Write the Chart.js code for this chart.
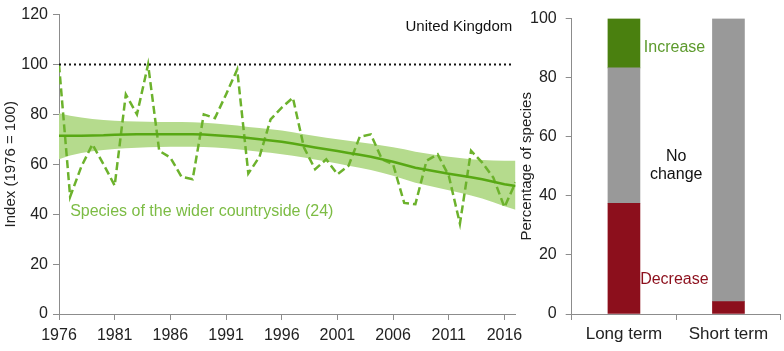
<!DOCTYPE html>
<html>
<head>
<meta charset="utf-8">
<script src="https://cdn.jsdelivr.net/npm/chart.js@4.4.1/dist/chart.umd.min.js"></script>
<style>
  body { margin: 0; background: #fff; }
  #wrap { position: relative; width: 784px; height: 351px; overflow: hidden; }
  canvas { position: absolute; top: 0; }
  #trendChart { left: 0; }
  #barChart { left: 518px; }
</style>
</head>
<body>
<div id="wrap">
  <canvas id="trendChart" width="540" height="351"></canvas>
  <canvas id="barChart" width="266" height="351"></canvas>
</div>
<script>
// 연도별 지수 (1976 = 100)
var years = [];
for (var yr = 1976; yr <= 2017; yr++) years.push(yr);

var indexValues = [100, 47, 59, 68, 60, 51.5, 88, 80, 100, 65.4, 62.7, 55, 54, 80,
  78.5, 88, 98, 56.3, 63, 78, 82.7, 86.7, 66.7, 58, 62, 56, 59.4, 71, 72, 62,
  60, 44.5, 44, 61.4, 64, 55.4, 36.2, 65.4, 60.7, 54.7, 42.8, 52.8];

var smoothed = [71.4, 71.4, 71.4, 71.5, 71.6, 71.8, 71.9, 72, 72, 72, 72, 72, 72, 71.9,
  71.6, 71.3, 71, 70.5, 70, 69.5, 69, 68.3, 67.5, 66.7, 66, 65.3, 64.5, 63.8, 63, 62,
  61, 59.8, 58.6, 57.8, 57, 56.2, 55.5, 54.8, 54, 53, 52, 51.3];

var upperCI = [80.5, 79.5, 78.8, 78.2, 77.8, 77.5, 77.3, 77.2, 77.1, 77, 77, 77, 76.9, 76.7,
  76.4, 76, 75.6, 75, 74.5, 74, 73.5, 72.8, 72, 71.3, 70.6, 70, 69.4, 68.8, 68.2, 67.5,
  66.8, 66, 65, 64.3, 63.6, 63, 62.5, 62, 61.7, 61.5, 61.4, 61.4];

var lowerCI = [62, 63.5, 64.5, 65.2, 65.7, 66.1, 66.4, 66.6, 66.8, 66.9, 67, 67, 67, 66.9,
  66.7, 66.4, 66, 65.5, 65, 64.6, 64, 63.4, 62.7, 61.9, 61.1, 60.3, 59.4, 58.6, 57.7, 56.6,
  55.4, 54, 52.6, 51.6, 50.6, 49.6, 48.6, 47.5, 46.3, 44.8, 43.2, 41.8];

var tickYears = [1976, 1981, 1986, 1991, 1996, 2001, 2006, 2011, 2016];

// 변화 비율 (24종)
var terms = ['Long term', 'Short term'];
var decrease = [37.5, 4.2];
var noChange = [45.8, 95.8];
var increase = [16.7, 0];

var FONT = "'Liberation Sans', Arial, sans-serif";

function xy(vals) {
  return vals.map(function (v, i) { return { x: years[i], y: v }; });
}
// 0인 막대는 그리지 않음
function skipZero(vals) {
  return vals.map(function (v) { return v === 0 ? null : v; });
}

var notes = {
  id: 'notes',
  afterDatasetsDraw: function (chart, args, opts) {
    var ctx = chart.ctx;
    var sx = chart.scales.x, sy = chart.scales.y;
    opts.items.forEach(function (t) {
      ctx.save();
      ctx.font = t.font;
      ctx.fillStyle = t.color;
      ctx.textAlign = t.align;
      ctx.textBaseline = 'middle';
      ctx.fillText(t.text, sx.getPixelForValue(t.x), sy.getPixelForValue(t.y));
      ctx.restore();
    });
  }
};

var axisGrid = { drawOnChartArea: false, drawTicks: true, tickLength: 6, color: '#8c8c8c' };
var axisBorder = { color: '#8c8c8c', width: 1 };
var tickFont = { family: FONT, size: 16 };

new Chart(document.getElementById('trendChart'), {
  type: 'line',
  data: {
    datasets: [
      { data: xy(upperCI), borderWidth: 0, pointRadius: 0, fill: '+1', backgroundColor: '#b5db8d', borderColor: 'rgba(0,0,0,0)' },
      { data: xy(lowerCI), borderWidth: 0, pointRadius: 0, fill: false, borderColor: 'rgba(0,0,0,0)' },
      { data: [{ x: 1976, y: 100 }, { x: 2016.8, y: 100 }], borderColor: '#111', borderWidth: 1.8, borderDash: [2, 3], pointRadius: 0 },
      { data: xy(smoothed), borderColor: '#58a814', borderWidth: 2.5, pointRadius: 0 },
      { data: xy(indexValues), borderColor: '#6cb22c', borderWidth: 2.5, borderDash: [8, 4], pointRadius: 0 }
    ]
  },
  options: {
    responsive: false,
    animation: false,
    layout: { padding: { left: 0, right: 24.4, top: 13, bottom: 0 } },
    plugins: {
      legend: { display: false },
      tooltip: { enabled: false },
      filler: { drawTime: 'beforeDatasetsDraw' },
      notes: {
        items: [
          { text: 'United Kingdom', x: 2016.7, y: 115.2, align: 'right', color: '#111', font: '15px ' + FONT },
          { text: 'Species of the wider countryside (24)', x: 1977, y: 41, align: 'left', color: '#7cbc44', font: '16px ' + FONT }
        ]
      }
    },
    scales: {
      x: {
        type: 'linear', min: 1976, max: 2017,
        afterBuildTicks: function (s) { s.ticks = tickYears.map(function (v) { return { value: v }; }); },
        afterFit: function (s) { s.height = 37; },
        grid: axisGrid, border: axisBorder,
        ticks: { font: tickFont, color: '#222', padding: 6, maxRotation: 0, callback: function (v) { return String(v); } }
      },
      y: {
        min: 0, max: 120,
        afterFit: function (s) { s.width = 59; },
        grid: axisGrid, border: axisBorder,
        ticks: { stepSize: 20, font: tickFont, color: '#222', padding: 5 },
        title: { display: true, text: 'Index (1976 = 100)', font: { family: FONT, size: 15 }, color: '#222', padding: { top: 2, bottom: 0 } }
      }
    }
  },
  plugins: [notes]
});

new Chart(document.getElementById('barChart'), {
  type: 'bar',
  data: {
    labels: terms,
    datasets: [
      { label: 'Decrease', data: skipZero(decrease), backgroundColor: '#8c0f1c' },
      { label: 'No change', data: skipZero(noChange), backgroundColor: '#999999' },
      { label: 'Increase', data: skipZero(increase), backgroundColor: '#4a800f' }
    ]
  },
  options: {
    responsive: false,
    animation: false,
    layout: { padding: { left: 0, right: 3.3, top: 13, bottom: 0 } },
    datasets: { bar: { barThickness: 32, borderWidth: 0 } },
    plugins: {
      legend: { display: false },
      tooltip: { enabled: false },
      notes: {
        items: [
          { text: 'Increase', x: 0.19, y: 90.2, align: 'left', color: '#5c9a2c', font: '16px ' + FONT },
          { text: 'No', x: 0.5, y: 53.3, align: 'center', color: '#111', font: '16px ' + FONT },
          { text: 'change', x: 0.5, y: 47.2, align: 'center', color: '#111', font: '16px ' + FONT },
          { text: 'Decrease', x: 0.155, y: 11.8, align: 'left', color: '#8c0f1c', font: '16px ' + FONT }
        ]
      }
    },
    scales: {
      x: {
        stacked: true,
        afterFit: function (s) { s.height = 37; },
        grid: Object.assign({}, axisGrid, { offset: true }), border: axisBorder,
        ticks: { font: { family: FONT, size: 17 }, color: '#222', padding: 4 }
      },
      y: {
        stacked: true, min: 0, max: 100,
        afterFit: function (s) { s.width = 53.7; },
        grid: axisGrid, border: axisBorder,
        ticks: { stepSize: 20, font: tickFont, color: '#222', padding: 9 },
        title: { display: true, text: 'Percentage of species', font: { family: FONT, size: 15 }, color: '#222', padding: { top: 0, bottom: 0 } }
      }
    }
  },
  plugins: [notes]
});
</script>
</body>
</html>
